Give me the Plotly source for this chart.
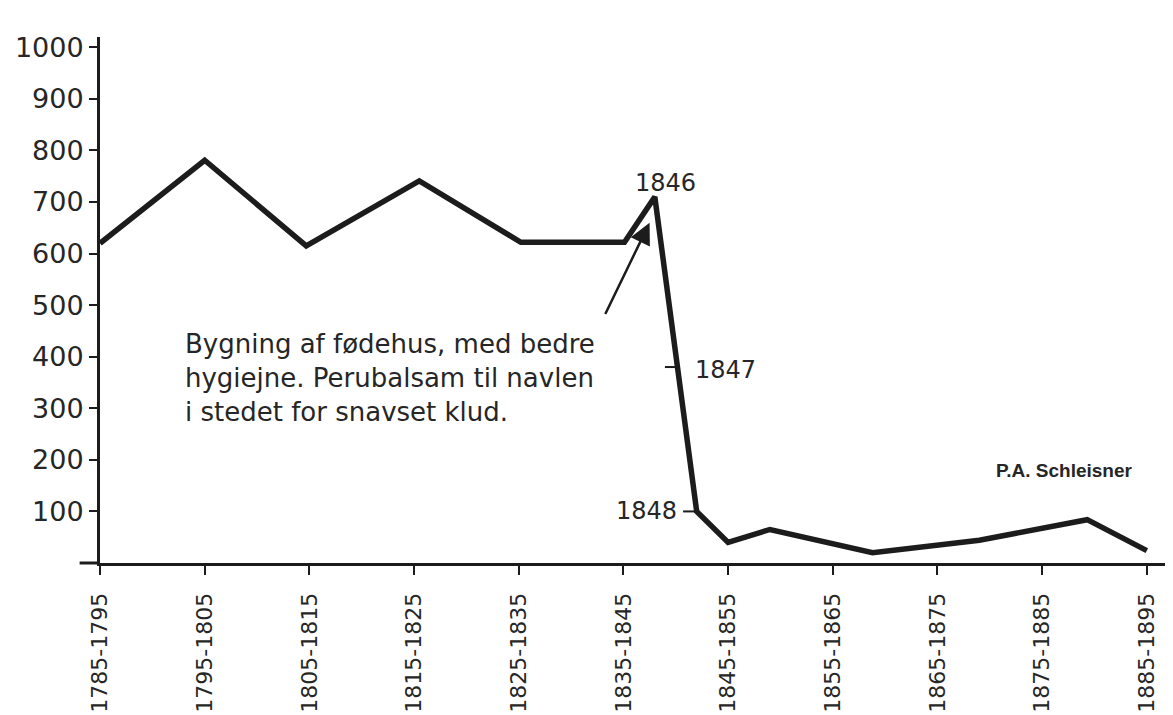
import plotly.graph_objects as go

# Tick labels (decades) and their positions on the decade axis
tick_labels = ["1785-1795", "1795-1805", "1805-1815", "1815-1825", "1825-1835",
               "1835-1845", "1845-1855", "1855-1865", "1865-1875", "1875-1885", "1885-1895"]
tick_pos = list(range(len(tick_labels)))

# Line vertices (position on decade axis, value)
x_pos = [0.0, 1.0, 1.97, 3.05, 4.02, 5.01, 5.30, 5.70, 6.0, 6.4, 7.38, 8.4, 9.43, 10.0]
values = [620, 781, 615, 741, 622, 622, 710, 100, 40, 65, 20, 44, 84, 24]

y_ticks = [100, 200, 300, 400, 500, 600, 700, 800, 900, 1000]

FONT = "DejaVu Sans, sans-serif"
INK = "#1c1c1c"
TXT = "#262626"

fig = go.Figure()
fig.add_trace(go.Scatter(
    x=x_pos, y=values, mode="lines",
    line=dict(color=INK, width=5.5), hoverinfo="skip", showlegend=False,
))

# small tick marks for 1847 / 1848 labels
i_peak, i_48 = 6, 7
y47 = 380
t = (values[i_peak] - y47) / (values[i_peak] - values[i_48])
x47 = x_pos[i_peak] + t * (x_pos[i_48] - x_pos[i_peak])
fig.add_shape(type="line", x0=x47 - 0.12, x1=x47 + 0.02, y0=y47, y1=y47,
              line=dict(color=INK, width=2))
fig.add_shape(type="line", x0=x_pos[i_48] - 0.13, x1=x_pos[i_48] - 0.01,
              y0=values[i_48], y1=values[i_48], line=dict(color=INK, width=2))
# x-axis line extends a bit left of the y axis
fig.add_shape(type="line", xref="paper", yref="paper", x0=-0.019, x1=0, y0=0, y1=0,
              line=dict(color=INK, width=3))

annotations = [
    dict(x=x_pos[i_peak] + 0.10, y=737, text="1846", showarrow=False,
         font=dict(size=24, family=FONT, color=TXT)),
    dict(x=x47 + 0.15, y=374, text="1847", showarrow=False, xanchor="left",
         font=dict(size=24, family=FONT, color=TXT)),
    dict(x=x_pos[i_48] - 0.17, y=values[i_48], text="1848", showarrow=False, xanchor="right",
         font=dict(size=24, family=FONT, color=TXT)),
    dict(x=9.21, y=180, text="<b>P.A. Schleisner</b>", showarrow=False,
         font=dict(size=19, family="Liberation Sans, Arial, sans-serif", color=TXT)),
    dict(x=0.79, y=358, text="Bygning af fødehus, med bedre<br>hygiejne. Perubalsam til navlen<br>i stedet for snavset klud.",
         showarrow=False, xanchor="left", align="left",
         font=dict(size=26, family=FONT, color=TXT)),
    dict(x=5.25, y=660, ax=4.82, ay=480, xref="x", yref="y", axref="x", ayref="y",
         text="", showarrow=True, arrowhead=2, arrowsize=1.7, arrowwidth=2.5, arrowcolor=INK),
]

fig.update_layout(
    width=1173, height=715,
    margin=dict(l=92, r=8, t=29, b=160),
    paper_bgcolor="white", plot_bgcolor="white",
    annotations=annotations,
    xaxis=dict(range=[0, 10.25], tickmode="array", tickvals=tick_pos, ticktext=tick_labels,
               tickangle=-90, ticks="outside", ticklen=9, tickwidth=2, tickcolor=INK,
               ticklabelstandoff=9,
               showline=True, linecolor=INK, linewidth=3, showgrid=False, zeroline=False,
               automargin=False,
               tickfont=dict(size=22, family=FONT, color=TXT)),
    yaxis=dict(range=[0, 1020], tickmode="array", tickvals=y_ticks,
               ticks="outside", ticklen=8, tickwidth=2, tickcolor=INK,
               showline=True, linecolor=INK, linewidth=3, showgrid=False, zeroline=False,
               automargin=False,
               tickfont=dict(size=27, family=FONT, color=TXT)),
)

fig.write_html("out.html")
